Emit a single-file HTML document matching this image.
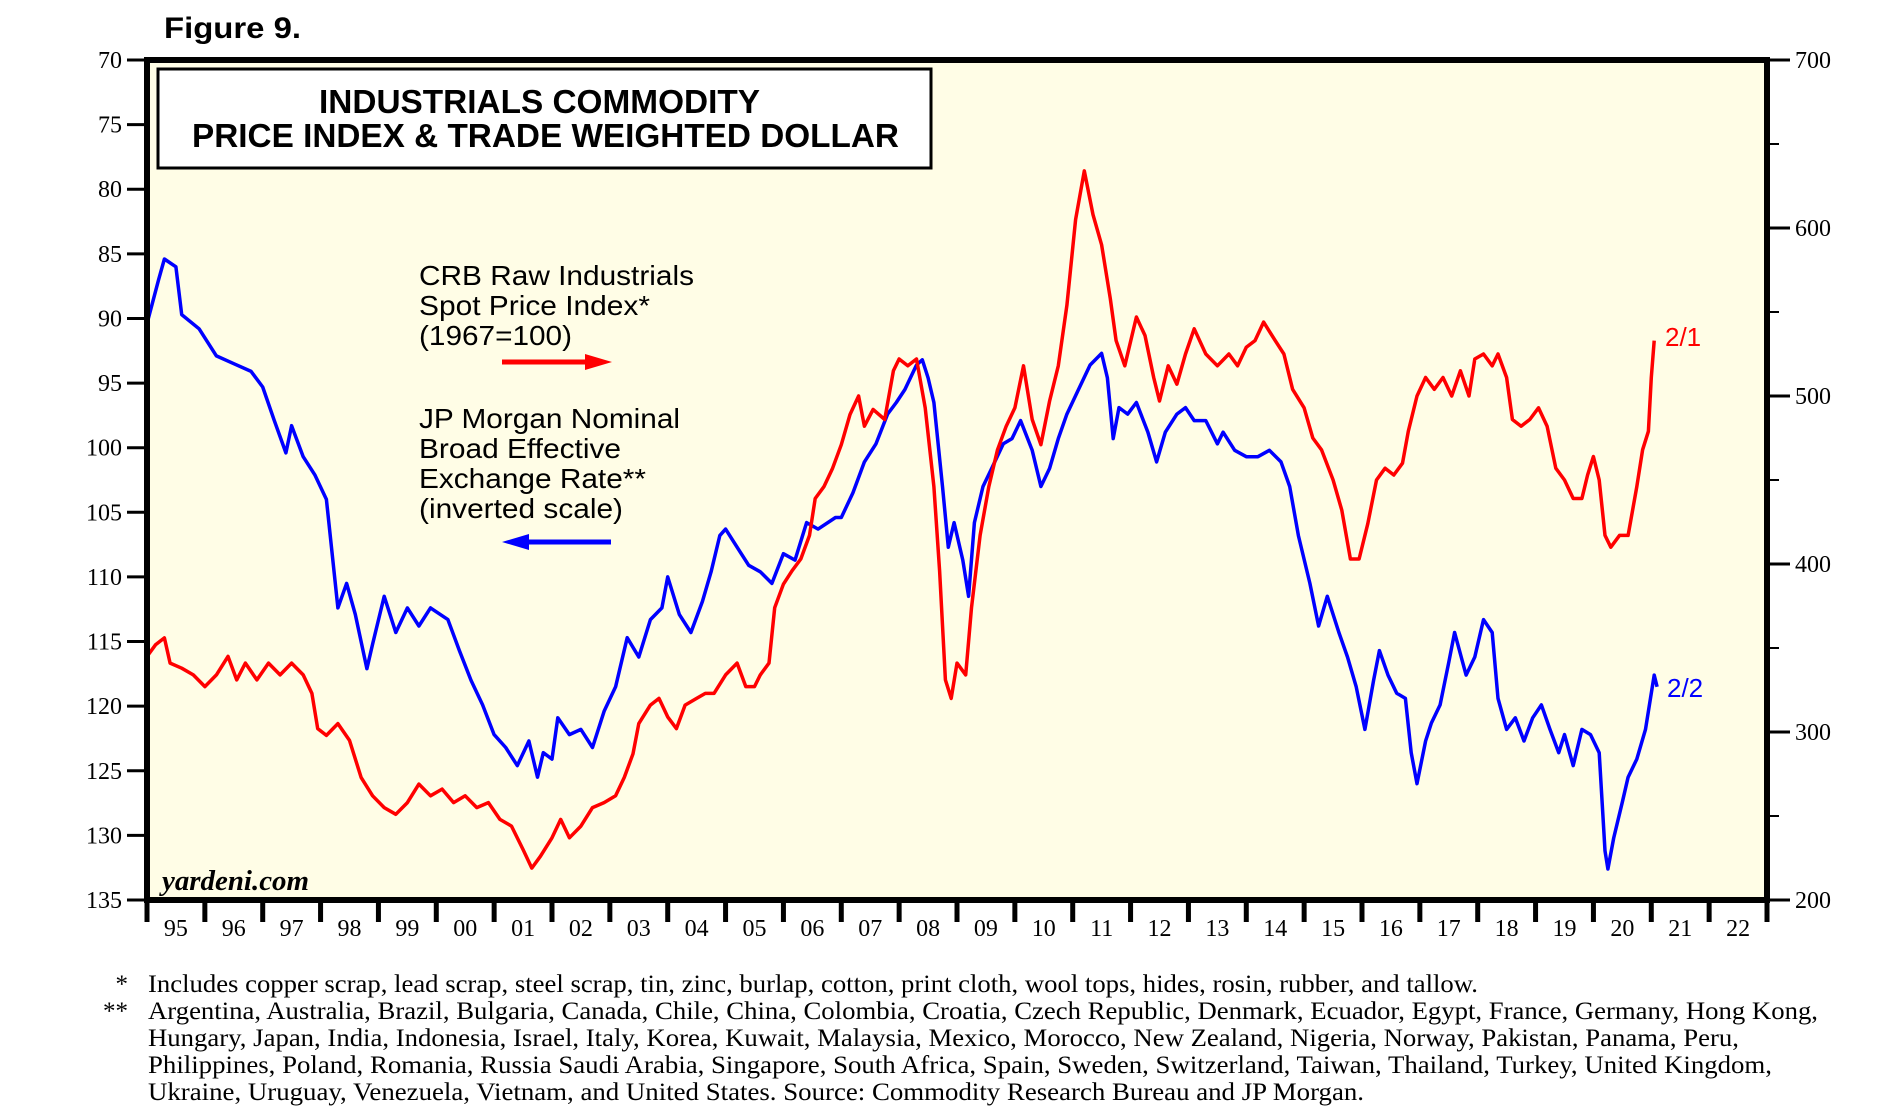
<!DOCTYPE html>
<html><head><meta charset="utf-8">
<style>
html,body{margin:0;padding:0;background:#fff;}
body{width:1904px;height:1120px;overflow:hidden;position:relative;}
svg{position:absolute;left:0;top:0;}
</style></head>
<body>
<svg id="chart" width="1904" height="1120" viewBox="0 0 1904 1120" xmlns="http://www.w3.org/2000/svg">
  <text x="164" y="38" textLength="137" lengthAdjust="spacingAndGlyphs" font-family="Liberation Sans, sans-serif" font-weight="bold" font-size="30">Figure 9.</text>
  <rect x="147" y="60" width="1620" height="840" fill="#fffde6"/>
  <g id="axes"></g>
  <g id="series"></g>
  <rect x="147" y="60" width="1620" height="840" fill="none" stroke="#000" stroke-width="6"/>
  <rect x="158" y="69" width="773" height="99" fill="#fff" stroke="#000" stroke-width="3"/>
  <text x="319" y="113" textLength="441" lengthAdjust="spacingAndGlyphs" font-family="Liberation Sans, sans-serif" font-weight="bold" font-size="33">INDUSTRIALS COMMODITY</text>
  <text x="192" y="147" textLength="707" lengthAdjust="spacingAndGlyphs" font-family="Liberation Sans, sans-serif" font-weight="bold" font-size="33">PRICE INDEX &amp; TRADE WEIGHTED DOLLAR</text>
  <g font-family="Liberation Sans, sans-serif" font-size="28" fill="#000">
    <text x="419" y="285" textLength="275" lengthAdjust="spacingAndGlyphs">CRB Raw Industrials</text>
    <text x="419" y="315" textLength="231" lengthAdjust="spacingAndGlyphs">Spot Price Index*</text>
    <text x="419" y="345" textLength="153" lengthAdjust="spacingAndGlyphs">(1967=100)</text>
  </g>
  <line x1="502" y1="362" x2="590" y2="362" stroke="#f00" stroke-width="5"/>
  <polygon points="585,354 612,362 585,370" fill="#f00"/>
  <g font-family="Liberation Sans, sans-serif" font-size="28" fill="#000">
    <text x="419" y="428" textLength="261" lengthAdjust="spacingAndGlyphs">JP Morgan Nominal</text>
    <text x="419" y="458" textLength="202" lengthAdjust="spacingAndGlyphs">Broad Effective</text>
    <text x="419" y="488" textLength="227" lengthAdjust="spacingAndGlyphs">Exchange Rate**</text>
    <text x="419" y="518" textLength="204" lengthAdjust="spacingAndGlyphs">(inverted scale)</text>
  </g>
  <line x1="525" y1="542" x2="611" y2="542" stroke="#00f" stroke-width="5"/>
  <polygon points="529,534 502,542 529,550" fill="#00f"/>
  <text x="162" y="890" textLength="147" lengthAdjust="spacingAndGlyphs" font-family="Liberation Serif, serif" font-style="italic" font-weight="bold" font-size="28">yardeni.com</text>
  <text x="1665" y="346" font-family="Liberation Sans, sans-serif" font-size="26" fill="#f00">2/1</text>
  <text x="1667" y="697" font-family="Liberation Sans, sans-serif" font-size="26" fill="#00f">2/2</text>
  <g font-family="Liberation Serif, serif" font-size="25" fill="#000">
    <text x="128" y="992" text-anchor="end">*</text>
    <text x="148" y="992" textLength="1330" lengthAdjust="spacingAndGlyphs">Includes copper scrap, lead scrap, steel scrap, tin, zinc, burlap, cotton, print cloth, wool tops, hides, rosin, rubber, and tallow.</text>
    <text x="128" y="1019" text-anchor="end">**</text>
    <text x="148" y="1019" textLength="1670" lengthAdjust="spacingAndGlyphs">Argentina, Australia, Brazil, Bulgaria, Canada, Chile, China, Colombia, Croatia, Czech Republic, Denmark, Ecuador, Egypt, France, Germany, Hong Kong,</text>
    <text x="148" y="1046" textLength="1591" lengthAdjust="spacingAndGlyphs">Hungary, Japan, India, Indonesia, Israel, Italy, Korea, Kuwait, Malaysia, Mexico, Morocco, New Zealand, Nigeria, Norway, Pakistan, Panama, Peru,</text>
    <text x="148" y="1073" textLength="1624" lengthAdjust="spacingAndGlyphs">Philippines, Poland, Romania, Russia Saudi Arabia, Singapore, South Africa, Spain, Sweden, Switzerland, Taiwan, Thailand, Turkey, United Kingdom,</text>
    <text x="148" y="1100" textLength="1216" lengthAdjust="spacingAndGlyphs">Ukraine, Uruguay, Venezuela, Vietnam, and United States. Source: Commodity Research Bureau and JP Morgan.</text>
  </g>
</svg>
<script>
const leftTicks = [70,75,80,85,90,95,100,105,110,115,120,125,130,135];
const rightTicks = [200,300,400,500,600,700];
const rightMinor = [250,350,450,550,650];
const yearLabels = ["95","96","97","98","99","00","01","02","03","04","05","06","07","08","09","10","11","12","13","14","15","16","17","18","19","20","21","22"];

const crbDates = [1995.0,1995.15,1995.3,1995.4,1995.6,1995.8,1996.0,1996.2,1996.4,1996.55,1996.7,1996.9,1997.1,1997.3,1997.5,1997.7,1997.85,1997.95,1998.1,1998.3,1998.5,1998.7,1998.9,1999.1,1999.3,1999.5,1999.7,1999.9,2000.1,2000.3,2000.5,2000.7,2000.9,2001.1,2001.3,2001.5,2001.65,2001.8,2002.0,2002.15,2002.3,2002.5,2002.7,2002.9,2003.1,2003.25,2003.4,2003.5,2003.7,2003.85,2004.0,2004.15,2004.3,2004.5,2004.65,2004.8,2005.0,2005.2,2005.35,2005.5,2005.6,2005.75,2005.85,2006.0,2006.15,2006.3,2006.45,2006.55,2006.7,2006.85,2007.0,2007.15,2007.3,2007.4,2007.55,2007.75,2007.9,2008.0,2008.15,2008.3,2008.45,2008.6,2008.7,2008.8,2008.9,2009.0,2009.15,2009.25,2009.4,2009.55,2009.7,2009.85,2010.0,2010.15,2010.3,2010.45,2010.6,2010.75,2010.9,2011.05,2011.2,2011.35,2011.5,2011.65,2011.75,2011.9,2012.1,2012.25,2012.4,2012.5,2012.65,2012.8,2012.95,2013.1,2013.3,2013.5,2013.7,2013.85,2014.0,2014.15,2014.3,2014.5,2014.65,2014.8,2015.0,2015.15,2015.3,2015.5,2015.65,2015.8,2015.95,2016.1,2016.25,2016.4,2016.55,2016.7,2016.8,2016.95,2017.1,2017.25,2017.4,2017.55,2017.7,2017.85,2017.95,2018.1,2018.25,2018.35,2018.5,2018.6,2018.75,2018.9,2019.05,2019.2,2019.35,2019.5,2019.65,2019.8,2019.9,2020.0,2020.1,2020.2,2020.3,2020.45,2020.6,2020.75,2020.85,2020.95,2021.0,2021.05];
const crbValues = [345,352,356,341,338,334,327,334,345,331,341,331,341,334,341,334,323,302,298,305,295,273,262,255,251,258,269,262,266,258,262,255,258,248,244,230,219,226,237,248,237,244,255,258,262,273,287,305,316,320,309,302,316,320,323,323,334,341,327,327,334,341,374,388,396,403,417,439,446,457,471,489,500,482,492,486,515,522,518,522,493,446,396,331,320,341,334,374,417,446,468,482,493,518,486,471,497,518,554,605,634,608,590,558,533,518,547,536,511,497,518,507,525,540,525,518,525,518,529,533,544,533,525,504,493,475,468,450,432,403,403,424,450,457,453,460,479,500,511,504,511,500,515,500,522,525,518,525,511,486,482,486,493,482,457,450,439,439,453,464,450,417,410,417,417,446,468,479,511,533];

const jpmDates = [1995.0,1995.2,1995.3,1995.5,1995.6,1995.9,1996.2,1996.5,1996.8,1997.0,1997.2,1997.4,1997.5,1997.7,1997.9,1998.1,1998.3,1998.45,1998.6,1998.8,1998.9,1999.1,1999.3,1999.5,1999.7,1999.9,2000.2,2000.4,2000.6,2000.8,2001.0,2001.2,2001.4,2001.6,2001.75,2001.85,2002.0,2002.1,2002.3,2002.5,2002.7,2002.9,2003.1,2003.3,2003.5,2003.7,2003.9,2004.0,2004.2,2004.4,2004.6,2004.75,2004.9,2005.0,2005.2,2005.4,2005.6,2005.8,2006.0,2006.2,2006.4,2006.6,2006.9,2007.0,2007.2,2007.4,2007.6,2007.8,2007.95,2008.1,2008.3,2008.4,2008.5,2008.6,2008.75,2008.85,2008.95,2009.1,2009.2,2009.3,2009.45,2009.6,2009.8,2009.95,2010.1,2010.3,2010.45,2010.6,2010.75,2010.9,2011.1,2011.3,2011.5,2011.6,2011.7,2011.8,2011.95,2012.1,2012.3,2012.45,2012.6,2012.8,2012.95,2013.1,2013.3,2013.5,2013.6,2013.8,2014.0,2014.2,2014.4,2014.6,2014.75,2014.9,2015.1,2015.25,2015.4,2015.6,2015.75,2015.9,2016.05,2016.2,2016.3,2016.45,2016.6,2016.75,2016.85,2016.95,2017.1,2017.2,2017.35,2017.5,2017.6,2017.8,2017.95,2018.1,2018.25,2018.35,2018.5,2018.65,2018.8,2018.95,2019.1,2019.25,2019.4,2019.5,2019.65,2019.8,2019.95,2020.1,2020.2,2020.25,2020.35,2020.5,2020.6,2020.75,2020.9,2021.0,2021.05,2021.1];
const jpmValues = [90.4,87,85.4,86,89.7,90.8,92.9,93.5,94.1,95.3,97.9,100.4,98.3,100.7,102.1,104,112.4,110.5,112.9,117.1,115.2,111.5,114.3,112.4,113.8,112.4,113.3,115.7,118,119.9,122.2,123.2,124.6,122.7,125.5,123.6,124.1,120.9,122.2,121.8,123.2,120.4,118.5,114.7,116.2,113.3,112.4,110,112.9,114.3,111.9,109.6,106.8,106.3,107.7,109.1,109.6,110.5,108.2,108.7,105.8,106.3,105.4,105.4,103.5,101.1,99.7,97.4,96.5,95.5,93.6,93.2,94.6,96.5,103,107.7,105.8,108.7,111.5,105.8,103,101.6,99.7,99.3,97.9,100.2,103,101.6,99.3,97.4,95.5,93.6,92.7,94.6,99.3,96.9,97.4,96.5,98.8,101.1,98.8,97.4,96.9,97.9,97.9,99.7,98.8,100.2,100.7,100.7,100.2,101.1,103,106.8,110.5,113.8,111.5,114.3,116.2,118.5,121.8,118,115.7,117.6,119,119.4,123.6,126,122.7,121.3,119.9,116.6,114.3,117.6,116.2,113.3,114.3,119.4,121.8,120.9,122.7,120.9,119.9,121.8,123.6,122.2,124.6,121.8,122.2,123.6,131.2,132.6,130.2,127.4,125.5,124.1,121.8,119,117.6,118.5];

const L=147,R=1767,T=60,B=900;
const NS="http://www.w3.org/2000/svg";
function xScale(yr){return L+(yr-1995)*(R-L)/28;}
function yLeft(v){return T+(v-70)/65*(B-T);}
function yRight(v){return B-(v-200)/500*(B-T);}
function mk(tag,attrs,parent){const e=document.createElementNS(NS,tag);for(const k in attrs)e.setAttribute(k,attrs[k]);parent.appendChild(e);return e;}
const axes=document.getElementById('axes');
const series=document.getElementById('series');

leftTicks.forEach(v=>{
  const y=yLeft(v);
  const t=mk('line',{x1:127,x2:L,y1:y,y2:y,stroke:'#000','stroke-width':3},axes);
  
  
  const lb=mk('text',{x:122,y:y+8,'text-anchor':'end','font-family':'Liberation Serif, serif','font-size':24},axes);
  lb.textContent=v;
  
  
});
rightTicks.forEach(v=>{
  const y=yRight(v);
  const t=mk('line',{x1:R,x2:1790,y1:y,y2:y,stroke:'#000','stroke-width':3},axes);
  
  
  const lb=mk('text',{x:1795,y:y+8,'font-family':'Liberation Serif, serif','font-size':24},axes);
  lb.textContent=v;
  
  
});
rightMinor.forEach(v=>{
  const y=yRight(v);
  const t=mk('line',{x1:R,x2:1779,y1:y,y2:y,stroke:'#000','stroke-width':2},axes);
  
  
});
for(let i=0;i<=yearLabels.length;i++){
  const x=xScale(1995+i);
  const t=mk('line',{x1:x,x2:x,y1:B,y2:B+22,stroke:'#000','stroke-width':5},axes);
  
  
}
yearLabels.forEach((lab,i)=>{
  const lb=mk('text',{x:xScale(1995.5+i),y:936,'text-anchor':'middle','font-family':'Liberation Serif, serif','font-size':24},axes);
  lb.textContent=lab;
  
  
});

const jp=mk('polyline',{points:jpmDates.map((d,i)=>xScale(d).toFixed(1)+','+yLeft(jpmValues[i]).toFixed(1)).join(' '),fill:'none',stroke:'#0000ff','stroke-width':3.5,'stroke-linejoin':'round'},series);


const cr=mk('polyline',{points:crbDates.map((d,i)=>xScale(d).toFixed(1)+','+yRight(crbValues[i]).toFixed(1)).join(' '),fill:'none',stroke:'#ff0000','stroke-width':3.5,'stroke-linejoin':'round'},series);


</script>
</body></html>
